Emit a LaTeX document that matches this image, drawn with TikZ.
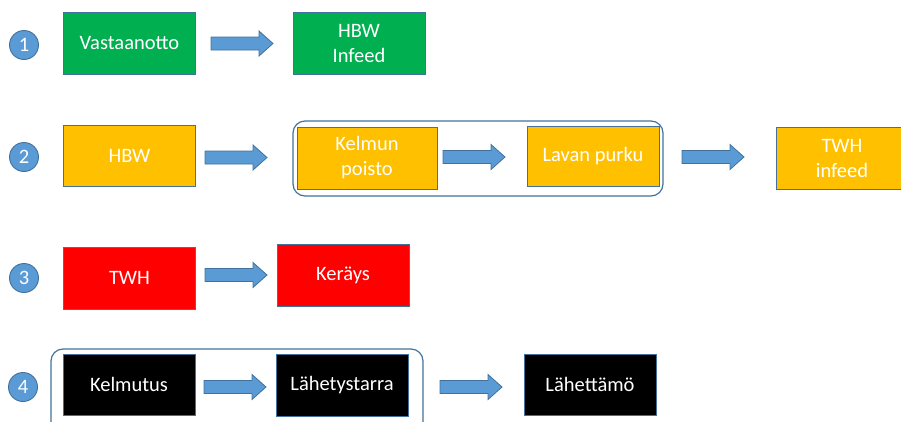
\documentclass[tikz,border=0pt]{standalone}
\usepackage{fontspec}
\setmainfont{Carlito}
\definecolor{flowblue}{HTML}{5B9BD5}
\definecolor{flowedge}{HTML}{41719C}
\definecolor{boxgreen}{HTML}{00B050}
\definecolor{boxorange}{HTML}{FFC000}
\definecolor{boxred}{HTML}{FF0000}
\begin{document}
\begin{tikzpicture}[x=1pt,y=-1pt,
  stepbox/.style={draw=flowedge, line width=0.9pt, text=white, align=center,
    minimum width=132pt, minimum height=62pt, inner sep=0pt,
    font=\fontsize{20.5}{25}\selectfont},
  greenbox/.style={stepbox, fill=boxgreen},
  orangebox/.style={stepbox, fill=boxorange},
  redbox/.style={stepbox, fill=boxred},
  blackbox/.style={stepbox, fill=black},
  stepnum/.style={circle, fill=flowblue, draw=flowedge, line width=0.9pt,
    text=white, minimum size=29pt, inner sep=0pt,
    font=\fontsize{20.5}{25}\selectfont},
  groupframe/.style={draw=flowedge, line width=1.2pt, rounded corners=12pt},
  flow/.pic={\filldraw[fill=flowblue, draw=flowedge, line width=0.8pt]
    (0,-6.5) -- (48,-6.5) -- (48,-12.5) -- (62,0) -- (48,12.5) -- (48,6.5)
    -- (0,6.5) -- cycle;}
]
\useasboundingbox (0,0) rectangle (901,421);

% row 1
\node[stepnum] (n1) at (24,45) {1};
\node[greenbox] (vast) at (129.5,43) {Vastaanotto};
\node[greenbox] (hbwin) at (359,43) {HBW\\Infeed};
\pic at (211,43.5) {flow};

% row 2
\node[stepnum] (n2) at (24,157) {2};
\draw[groupframe] (293,121) rectangle (663,196);
\node[orangebox, minimum height=61pt] (hbw) at (129.5,155.5) {HBW};
\node[orangebox, minimum width=140pt] (kelmun) at (367,158) {Kelmun\\poisto};
\node[orangebox, minimum height=60pt] (lavan) at (593,156) {Lavan purku};
\node[orangebox] (twhin) at (842,158) {TWH\\infeed};
\pic at (205,157.5) {flow};
\pic at (443,157) {flow};
\pic at (682,157) {flow};

% row 3
\node[stepnum] (n3) at (24,278) {3};
\node[redbox] (twh) at (129.5,278) {TWH};
\node[redbox] (keray) at (343,275.5) {Keräys};
\pic at (205,275) {flow};

% row 4
\node[stepnum] (n4) at (23,387) {4};
\draw[groupframe] (51,349) rectangle (423,440);
\node[blackbox, minimum height=61pt] (kelmu) at (129,384.5) {Kelmutus};
\node[blackbox] (lahety) at (342,385) {Lähetystarra};
\node[blackbox, minimum height=61pt] (lahett) at (590,384.5) {Lähettämö};
\pic at (204,387) {flow};
\pic at (440,387) {flow};
\end{tikzpicture}
\end{document}
